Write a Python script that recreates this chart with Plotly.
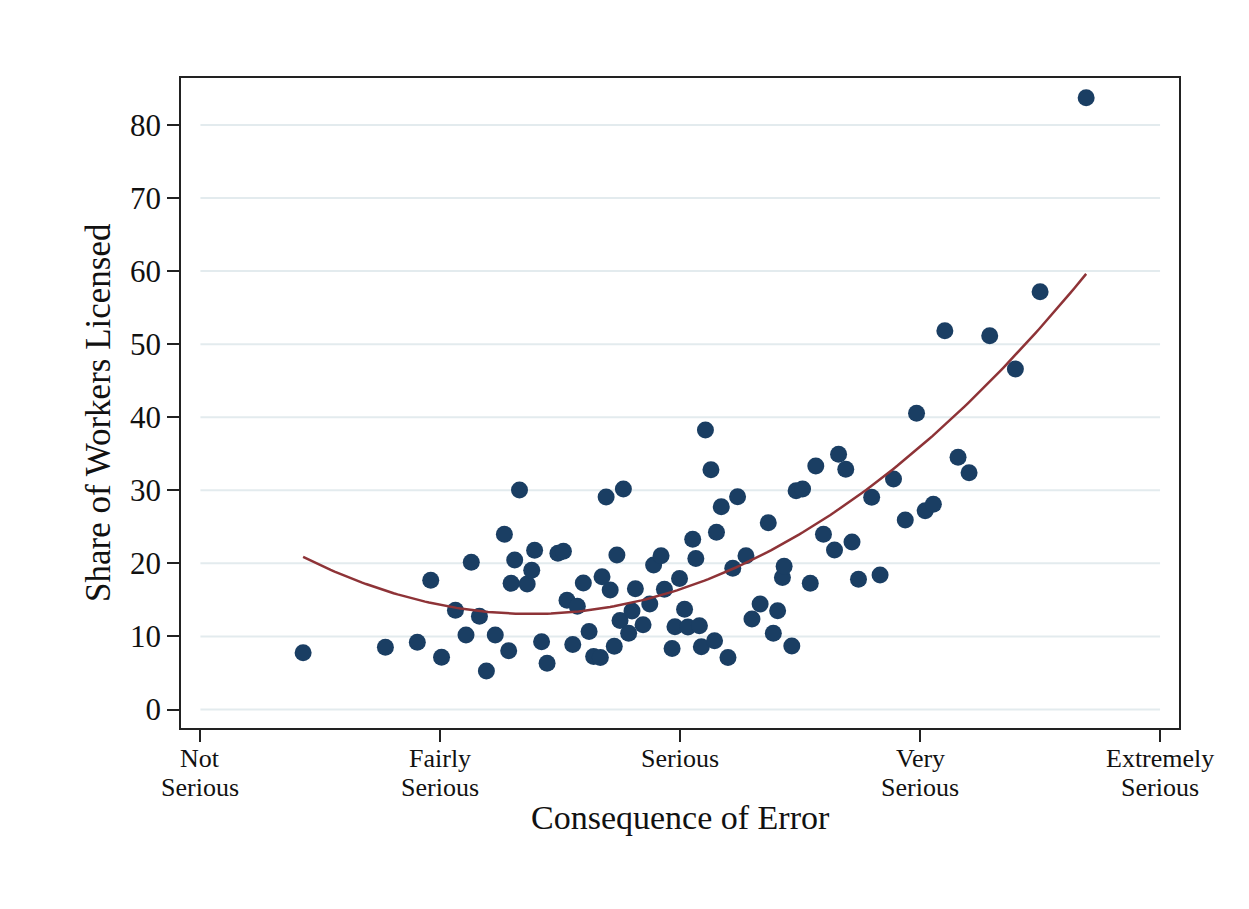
import numpy as np
import plotly.graph_objects as go

# Consequence-of-error score (1 = Not Serious ... 5 = Extremely Serious) by occupation
consequence = [
    1.428, 1.771, 1.904, 1.960, 2.005, 2.063, 2.107, 2.129, 2.163, 2.192,
    2.229, 2.267, 2.285, 2.295, 2.310, 2.330, 2.362, 2.381, 2.393, 2.422,
    2.445, 2.490, 2.513, 2.528, 2.552, 2.571, 2.596, 2.620, 2.639, 2.667,
    2.674, 2.691, 2.708, 2.725, 2.736, 2.749, 2.763, 2.785, 2.799, 2.813,
    2.845, 2.873, 2.889, 2.920, 2.934, 2.966, 2.978, 2.997, 3.018, 3.032,
    3.080, 3.052, 3.065, 3.088, 3.105, 3.128, 3.143, 3.151, 3.171, 3.199,
    3.219, 3.239, 3.274, 3.299, 3.333, 3.367, 3.388, 3.406, 3.426, 3.433,
    3.465, 3.483, 3.510, 3.542, 3.565, 3.597, 3.643, 3.660, 3.690, 3.716,
    3.743, 3.798, 3.833, 3.889, 3.938, 3.985, 4.021, 4.055, 4.103, 4.158,
    4.204, 4.290, 4.397, 4.500, 4.692,
]

# Share of workers in the occupation who hold a licence (%)
share_licensed = [
    7.77, 8.51, 9.20, 17.68, 7.14, 13.58, 10.20, 20.15, 12.75, 5.27,
    10.20, 23.98, 8.05, 17.27, 20.46, 30.04, 17.18, 19.05, 21.80, 9.28,
    6.32, 21.38, 21.66, 14.94, 8.90, 14.12, 17.31, 10.67, 7.25, 7.12,
    18.17, 29.08, 16.35, 8.66, 21.14, 12.18, 30.18, 10.43, 13.48, 16.53,
    11.61, 14.44, 19.78, 21.03, 16.45, 8.35, 11.33, 17.93, 13.71, 11.29,
    11.47, 23.29, 20.67, 8.59, 38.25, 32.82, 9.40, 24.25, 27.75, 7.12,
    19.32, 29.12, 21.03, 12.39, 14.44, 25.56, 10.43, 13.52, 18.06, 19.60,
    8.69, 29.94, 30.18, 17.27, 33.32, 23.98, 21.83, 34.94, 32.87, 22.92,
    17.83, 29.04, 18.41, 31.55, 25.93, 40.54, 27.19, 28.08, 51.84, 34.52,
    32.39, 51.16, 46.60, 57.18, 83.73,
]

# Scale points and their two-line labels
x_tick_values = [1, 2, 3, 4, 5]
x_tick_line1 = ["Not", "Fairly", "Serious", "Very", "Extremely"]
x_tick_line2 = ["Serious", "Serious", "", "Serious", "Serious"]
y_tick_values = [0, 10, 20, 30, 40, 50, 60, 70, 80]

NAVY = "#1a3e63"
MAROON = "#8e3337"
FONT = "Liberation Serif"
INK = "#111"

# Quadratic fit over the observed range
xs = np.asarray(consequence)
ys = np.asarray(share_licensed)
coef = np.polyfit(xs, ys, 2)
fit_x = np.linspace(xs.min(), xs.max(), 200)
fit_y = np.polyval(coef, fit_x)

fig = go.Figure()

fig.add_trace(go.Scatter(
    x=consequence, y=share_licensed, mode="markers",
    marker=dict(size=17, color=NAVY, line=dict(width=0)),
    hoverinfo="skip", showlegend=False,
))
fig.add_trace(go.Scatter(
    x=fit_x, y=fit_y, mode="lines",
    line=dict(color=MAROON, width=2.5),
    hoverinfo="skip", showlegend=False,
))

# Horizontal gridlines spanning the labelled x range only
for v in y_tick_values:
    fig.add_shape(type="line", xref="x", yref="y",
                  x0=x_tick_values[0], x1=x_tick_values[-1], y0=v, y1=v,
                  line=dict(color="#e3ebee", width=2), layer="below")

fig.update_xaxes(
    range=[0.919, 5.079],
    tickmode="array", tickvals=x_tick_values, showticklabels=False,
    ticks="outside", ticklen=12, tickwidth=1.5, tickcolor="#222",
    showline=True, linecolor="#222", linewidth=1.5, mirror=True,
    showgrid=False, zeroline=False,
)
fig.update_yaxes(
    range=[-2.53, 86.42],
    tickmode="array", tickvals=y_tick_values,
    ticks="outside", ticklen=12, tickwidth=1.5, tickcolor="#222",
    showline=True, linecolor="#222", linewidth=1.5, mirror=True,
    showgrid=False, zeroline=False,
    tickfont=dict(family=FONT, size=31, color=INK),
)

# Two-line category labels under the x ticks, set tighter than <br> spacing
for xv, top, bottom in zip(x_tick_values, x_tick_line1, x_tick_line2):
    fig.add_annotation(text=top, xref="x", yref="paper", x=xv, y=-0.0462,
                       xanchor="center", yanchor="middle", showarrow=False,
                       borderpad=0, font=dict(family=FONT, size=26, color=INK))
    if bottom:
        fig.add_annotation(text=bottom, xref="x", yref="paper", x=xv, y=-0.0908,
                           xanchor="center", yanchor="middle", showarrow=False,
                           borderpad=0, font=dict(family=FONT, size=26, color=INK))

fig.add_annotation(
    text="Share of Workers Licensed", textangle=-90,
    xref="paper", yref="y", x=-0.082, y=40.6, xanchor="center", yanchor="middle",
    showarrow=False, font=dict(family=FONT, size=35, color=INK),
)
fig.add_annotation(
    text="Consequence of Error",
    xref="x", yref="paper", x=3, y=-0.137, xanchor="center", yanchor="middle",
    showarrow=False, font=dict(family=FONT, size=34, color=INK),
)

fig.update_layout(
    width=1249, height=909,
    margin=dict(l=181, r=70, t=78, b=181),
    paper_bgcolor="white", plot_bgcolor="white",
)

fig.write_html("out.html")
